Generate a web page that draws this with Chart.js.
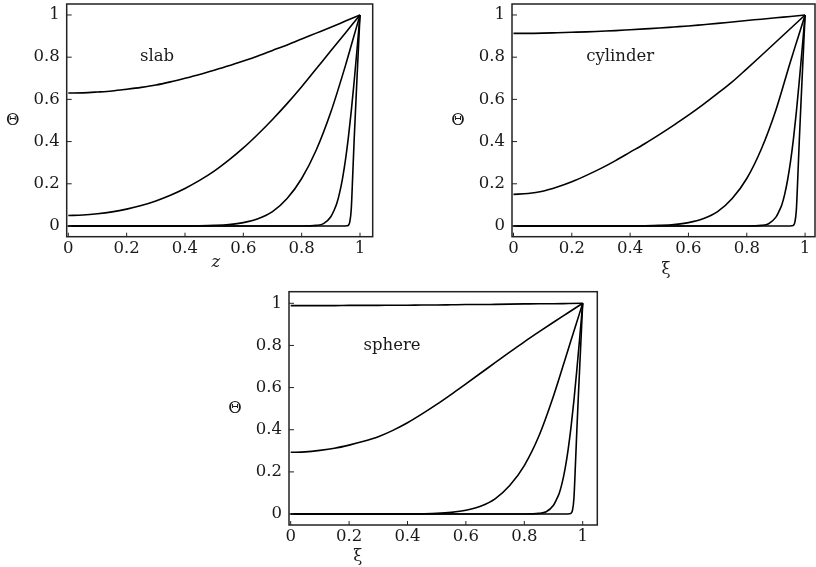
<!DOCTYPE html>
<html>
<head>
<meta charset="utf-8">
<script src="https://cdn.jsdelivr.net/npm/chart.js@4.4.0/dist/chart.umd.min.js"></script>
<style>
  html, body { margin: 0; padding: 0; background: #fff; }
  #wrap { position: relative; width: 816px; height: 567px; overflow: hidden; }
  canvas { position: absolute; left: 0; top: 0; }
</style>
</head>
<body>
<div id="wrap">
  <canvas id="slab" width="816" height="567"></canvas>
  <canvas id="cylinder" width="816" height="567"></canvas>
  <canvas id="sphere" width="816" height="567"></canvas>
</div>
<script>
// tick values shared by both axes of every panel
const tickValues = [0, 0.2, 0.4, 0.6, 0.8, 1];

// x positions the curves were read at
const xFine = [0, 0.05, 0.1, 0.15, 0.2, 0.25, 0.3, 0.35, 0.4, 0.45, 0.5,
               0.55, 0.6, 0.65, 0.7, 0.75, 0.8, 0.85, 0.9, 0.95, 1];
const xMid = [0, 0.4, 0.45, 0.5, 0.55, 0.6, 0.65, 0.7, 0.75, 0.8, 0.85, 0.9, 0.95, 0.975, 1];
const xLate = [0, 0.8, 0.85, 0.875, 0.9, 0.91, 0.92, 0.93, 0.94, 0.95, 0.96, 0.97, 0.98, 0.99, 1];
const xEdge = [0, 0.94, 0.955, 0.96, 0.965, 0.97, 0.975, 0.98, 0.985, 0.99, 0.995, 1];

// slab
const slab1 = [0.63, 0.631, 0.635, 0.64, 0.648, 0.657, 0.668, 0.683, 0.70, 0.718, 0.738,
               0.759, 0.782, 0.806, 0.832, 0.858, 0.886, 0.914, 0.942, 0.971, 1];
const slab2 = [0.05, 0.052, 0.058, 0.067, 0.08, 0.097, 0.119, 0.146, 0.178, 0.216, 0.26,
               0.312, 0.37, 0.435, 0.505, 0.58, 0.66, 0.745, 0.83, 0.915, 1];
const slab3 = [0, 0, 0.001, 0.003, 0.007, 0.016, 0.034, 0.068, 0.13, 0.225, 0.36, 0.54, 0.76, 0.88, 1];
const slab4 = [0, 0, 0.003, 0.011, 0.044, 0.071, 0.105, 0.157, 0.225, 0.312, 0.419, 0.544, 0.686, 0.84, 1];
const slab5 = [0, 0, 0.001, 0.004, 0.02, 0.08, 0.24, 0.41, 0.56, 0.71, 0.855, 1];

// cylinder
const cyl1 = [0.913, 0.913, 0.914, 0.916, 0.918, 0.92, 0.923, 0.926, 0.93, 0.934, 0.938,
              0.943, 0.948, 0.954, 0.96, 0.967, 0.974, 0.98, 0.987, 0.993, 1];
const cyl2 = [0.15, 0.154, 0.165, 0.185, 0.21, 0.24, 0.273, 0.31, 0.35, 0.39, 0.433,
              0.478, 0.525, 0.575, 0.628, 0.683, 0.745, 0.808, 0.872, 0.936, 1];
const cyl3 = [0, 0, 0.001, 0.003, 0.007, 0.016, 0.034, 0.068, 0.13, 0.225, 0.365, 0.55, 0.78, 0.89, 1];
const cyl4 = [0, 0, 0.003, 0.011, 0.042, 0.068, 0.1, 0.15, 0.218, 0.305, 0.412, 0.54, 0.685, 0.84, 1];
const cyl5 = [0, 0, 0.001, 0.004, 0.018, 0.075, 0.23, 0.4, 0.555, 0.705, 0.852, 1];

// sphere
const sph1 = [0.989, 0.989, 0.989, 0.989, 0.99, 0.99, 0.99, 0.991, 0.991, 0.992, 0.992,
              0.993, 0.994, 0.994, 0.995, 0.996, 0.997, 0.998, 0.998, 0.999, 1];
const sph2 = [0.293, 0.295, 0.302, 0.312, 0.327, 0.345, 0.367, 0.397, 0.433, 0.475, 0.52,
              0.568, 0.618, 0.668, 0.718, 0.768, 0.817, 0.864, 0.91, 0.955, 1];
const sph3 = [0, 0, 0.001, 0.003, 0.008, 0.018, 0.037, 0.072, 0.135, 0.23, 0.37, 0.56, 0.78, 0.89, 1];
const sph4 = [0, 0, 0.003, 0.011, 0.042, 0.068, 0.1, 0.15, 0.218, 0.305, 0.412, 0.54, 0.685, 0.84, 1];
const sph5 = [0, 0, 0.001, 0.004, 0.018, 0.075, 0.23, 0.4, 0.555, 0.705, 0.852, 1];

const FONT = 'DejaVu Serif';
const FONT_SIZE = 16.5;
const INK = '#1a1a1a';

function makePanel(id, p) {
    const datasets = p.curves.map(([xs, ys]) => ({
        data: xs.map((x, i) => ({ x: x, y: ys[i] })),
        borderColor: '#000',
        borderWidth: 1.6,
        pointRadius: 0,
        cubicInterpolationMode: 'monotone',
        fill: false
    }));

    // frame, inward ticks and the free text of the panel
    const decor = {
        id: 'decor',
        afterDraw(chart) {
            const { ctx, chartArea: a, scales: { x, y } } = chart;
            ctx.save();
            ctx.strokeStyle = '#222';
            ctx.lineWidth = 1.5;
            ctx.strokeRect(a.left, a.top, a.right - a.left, a.bottom - a.top);
            ctx.lineWidth = 1;
            ctx.beginPath();
            tickValues.forEach(v => {
                const px = x.getPixelForValue(v);
                ctx.moveTo(px, a.bottom);
                ctx.lineTo(px, a.bottom - 4);
                const py = y.getPixelForValue(v);
                ctx.moveTo(a.left, py);
                ctx.lineTo(a.left + 5, py);
            });
            ctx.stroke();

            ctx.fillStyle = INK;
            ctx.font = FONT_SIZE + 'px "' + FONT + '"';
            ctx.textAlign = 'center';
            ctx.textBaseline = 'middle';
            ctx.fillText(p.name, x.getPixelForValue(p.nameAt[0]), y.getPixelForValue(p.nameAt[1]));
            ctx.fillText('Θ', a.left - 54, (a.top + a.bottom) / 2);
            ctx.font = (p.italic ? 'italic ' : '') + FONT_SIZE + 'px "' + FONT + '"';
            ctx.textBaseline = 'alphabetic';
            ctx.fillText(p.xTitle, x.getPixelForValue(p.xTitleAt), a.bottom + p.xTitleDrop);
            ctx.restore();
        }
    };

    const tickFont = { family: FONT, size: FONT_SIZE };

    new Chart(document.getElementById(id), {
        type: 'line',
        data: { datasets },
        options: {
            responsive: false,
            animation: false,
            events: [],
            layout: {
                padding: {
                    left: p.box.left - 60,
                    top: p.box.top,
                    right: 816 - p.box.right,
                    bottom: 567 - p.box.bottom - 30
                }
            },
            plugins: { legend: { display: false }, tooltip: { enabled: false } },
            scales: {
                x: {
                    type: 'linear',
                    min: p.xr[0], max: p.xr[1],
                    afterFit: s => { s.height = 30; s.paddingLeft = 0; s.paddingRight = 0; },
                    afterBuildTicks: s => { s.ticks = tickValues.map(v => ({ value: v })); },
                    grid: { display: false, drawTicks: false },
                    border: { display: false },
                    ticks: { padding: 2, color: INK, font: tickFont, maxRotation: 0, autoSkip: false, callback: v => String(v) }
                },
                y: {
                    type: 'linear',
                    min: p.yr[0], max: p.yr[1],
                    afterFit: s => { s.width = 60; s.paddingTop = 0; s.paddingBottom = 0; },
                    afterBuildTicks: s => { s.ticks = tickValues.map(v => ({ value: v })); },
                    grid: { display: false, drawTicks: false },
                    border: { display: false },
                    ticks: { padding: 7, color: INK, font: tickFont, autoSkip: false, callback: v => String(v) }
                }
            }
        },
        plugins: [decor]
    });
}

makePanel('slab', {
    curves: [[xFine, slab1], [xFine, slab2], [xMid, slab3], [xLate, slab4], [xEdge, slab5]],
    box: { left: 66.7, top: 4, right: 372.7, bottom: 236.7 },
    xr: [-0.0055, 1.0435], yr: [-0.0507, 1.052],
    name: 'slab', nameAt: [0.304, 0.80],
    xTitle: 'z', italic: true, xTitleAt: 0.506, xTitleDrop: 30
});

makePanel('cylinder', {
    curves: [[xFine, cyl1], [xFine, cyl2], [xMid, cyl3], [xLate, cyl4], [xEdge, cyl5]],
    box: { left: 512, top: 4, right: 815, bottom: 236.7 },
    xr: [-0.0051, 1.034], yr: [-0.0507, 1.052],
    name: 'cylinder', nameAt: [0.366, 0.80],
    xTitle: 'ξ', italic: false, xTitleAt: 0.523, xTitleDrop: 37
});

makePanel('sphere', {
    curves: [[xFine, sph1], [xFine, sph2], [xMid, sph3], [xLate, sph4], [xEdge, sph5]],
    box: { left: 289, top: 291.7, right: 597.3, bottom: 525 },
    xr: [-0.0058, 1.05], yr: [-0.052, 1.055],
    name: 'sphere', nameAt: [0.347, 0.80],
    xTitle: 'ξ', italic: false, xTitleAt: 0.23, xTitleDrop: 36
});
</script>
</body>
</html>
